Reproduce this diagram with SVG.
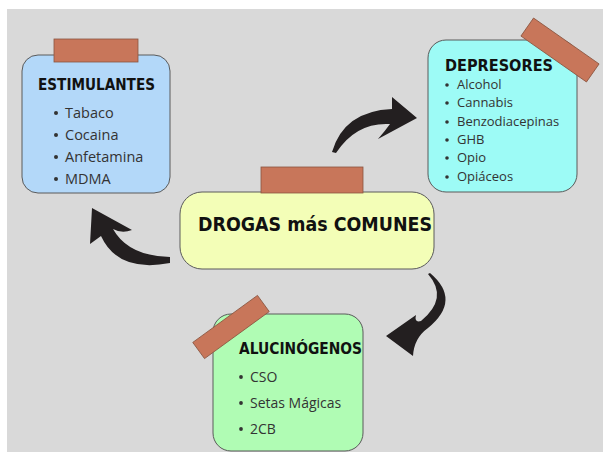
<svg xmlns="http://www.w3.org/2000/svg" width="603" height="452" viewBox="0 0 603 452">
<style>
.box{stroke:#5a5a5a;stroke-width:1}
.tape{fill:#c8765a;stroke:#8a5540;stroke-width:0.8}
.title{font-family:"DejaVu Sans","Liberation Sans",sans-serif;font-weight:bold;fill:#111}
.item{font-family:"Open Sans","Noto Sans",sans-serif;fill:#333}
.arrow{fill:#231f20}
</style>
<rect x="0" y="0" width="603" height="452" fill="#ffffff"/>
<rect x="7" y="9" width="596" height="443" fill="#d9d9d9"/>
<g id="connectors">
<path class="arrow" d="M 92,208 L 132,230 Q 122,234 113,229 Q 128,256 170,257 L 170,263 Q 118,273 101,236 L 90,244 Z"/>
<path class="arrow" d="M 332,152 Q 344,111 392,109 L 392,97 L 417,118 L 378,139 Q 385,131 390,124 Q 356,122 336,153 Z"/>
<path class="arrow" d="M 430,273 Q 462,300 428,328 Q 414,338 413,356 L 386,336 L 416,315 Q 414,323 421,321 Q 449,298 428,274 Z"/>
</g>
<g id="estimulantes">
<rect class="box" x="22" y="55" width="148" height="138" rx="16" fill="#b3d8f9"/>
<rect class="tape" x="54" y="39" width="84" height="23"/>
<text class="title" x="38" y="90" font-size="15" textLength="117" lengthAdjust="spacingAndGlyphs">ESTIMULANTES</text>
<g class="item" font-size="14.5">
<circle cx="56" cy="113" r="2"/><text x="65" y="118">Tabaco</text>
<circle cx="56" cy="135" r="2"/><text x="65" y="140">Cocaina</text>
<circle cx="56" cy="157" r="2"/><text x="65" y="162">Anfetamina</text>
<circle cx="56" cy="179" r="2"/><text x="65" y="184">MDMA</text>
</g>
</g>
<g id="depresores">
<rect class="box" x="428" y="40" width="149" height="152" rx="18" fill="#9dfbf6"/>
<rect class="tape" x="520" y="39" width="80" height="22" transform="rotate(35 560 50)"/>
<text class="title" x="445" y="71" font-size="15" textLength="108" lengthAdjust="spacingAndGlyphs">DEPRESORES</text>
<g class="item" font-size="13">
<circle cx="447" cy="85" r="1.8"/><text x="457" y="89">Alcohol</text>
<circle cx="447" cy="103" r="1.8"/><text x="457" y="107">Cannabis</text>
<circle cx="447" cy="122" r="1.8"/><text x="457" y="126">Benzodiacepinas</text>
<circle cx="447" cy="140" r="1.8"/><text x="457" y="144">GHB</text>
<circle cx="447" cy="158" r="1.8"/><text x="457" y="162">Opio</text>
<circle cx="447" cy="177" r="1.8"/><text x="457" y="181">Opiáceos</text>
</g>
</g>
<g id="central">
<rect class="box" x="180" y="192" width="254" height="77" rx="22" fill="#f3feb7"/>
<rect class="tape" x="261" y="167" width="102" height="26"/>
<text class="title" x="198" y="231" font-size="20" textLength="234" lengthAdjust="spacingAndGlyphs">DROGAS más COMUNES</text>
</g>
<g id="alucinogenos">
<rect class="box" x="213" y="314" width="150" height="137" rx="18" fill="#b0fcb4"/>
<rect class="tape" x="191" y="317" width="80" height="20" transform="rotate(-36 231 327)"/>
<text class="title" x="239" y="354" font-size="15" textLength="123" lengthAdjust="spacingAndGlyphs">ALUCINÓGENOS</text>
<g class="item" font-size="14">
<circle cx="241" cy="377" r="1.9"/><text x="250" y="382">CSO</text>
<circle cx="241" cy="403" r="1.9"/><text x="250" y="408">Setas Mágicas</text>
<circle cx="241" cy="429" r="1.9"/><text x="250" y="434">2CB</text>
</g>
</g>
</svg>
